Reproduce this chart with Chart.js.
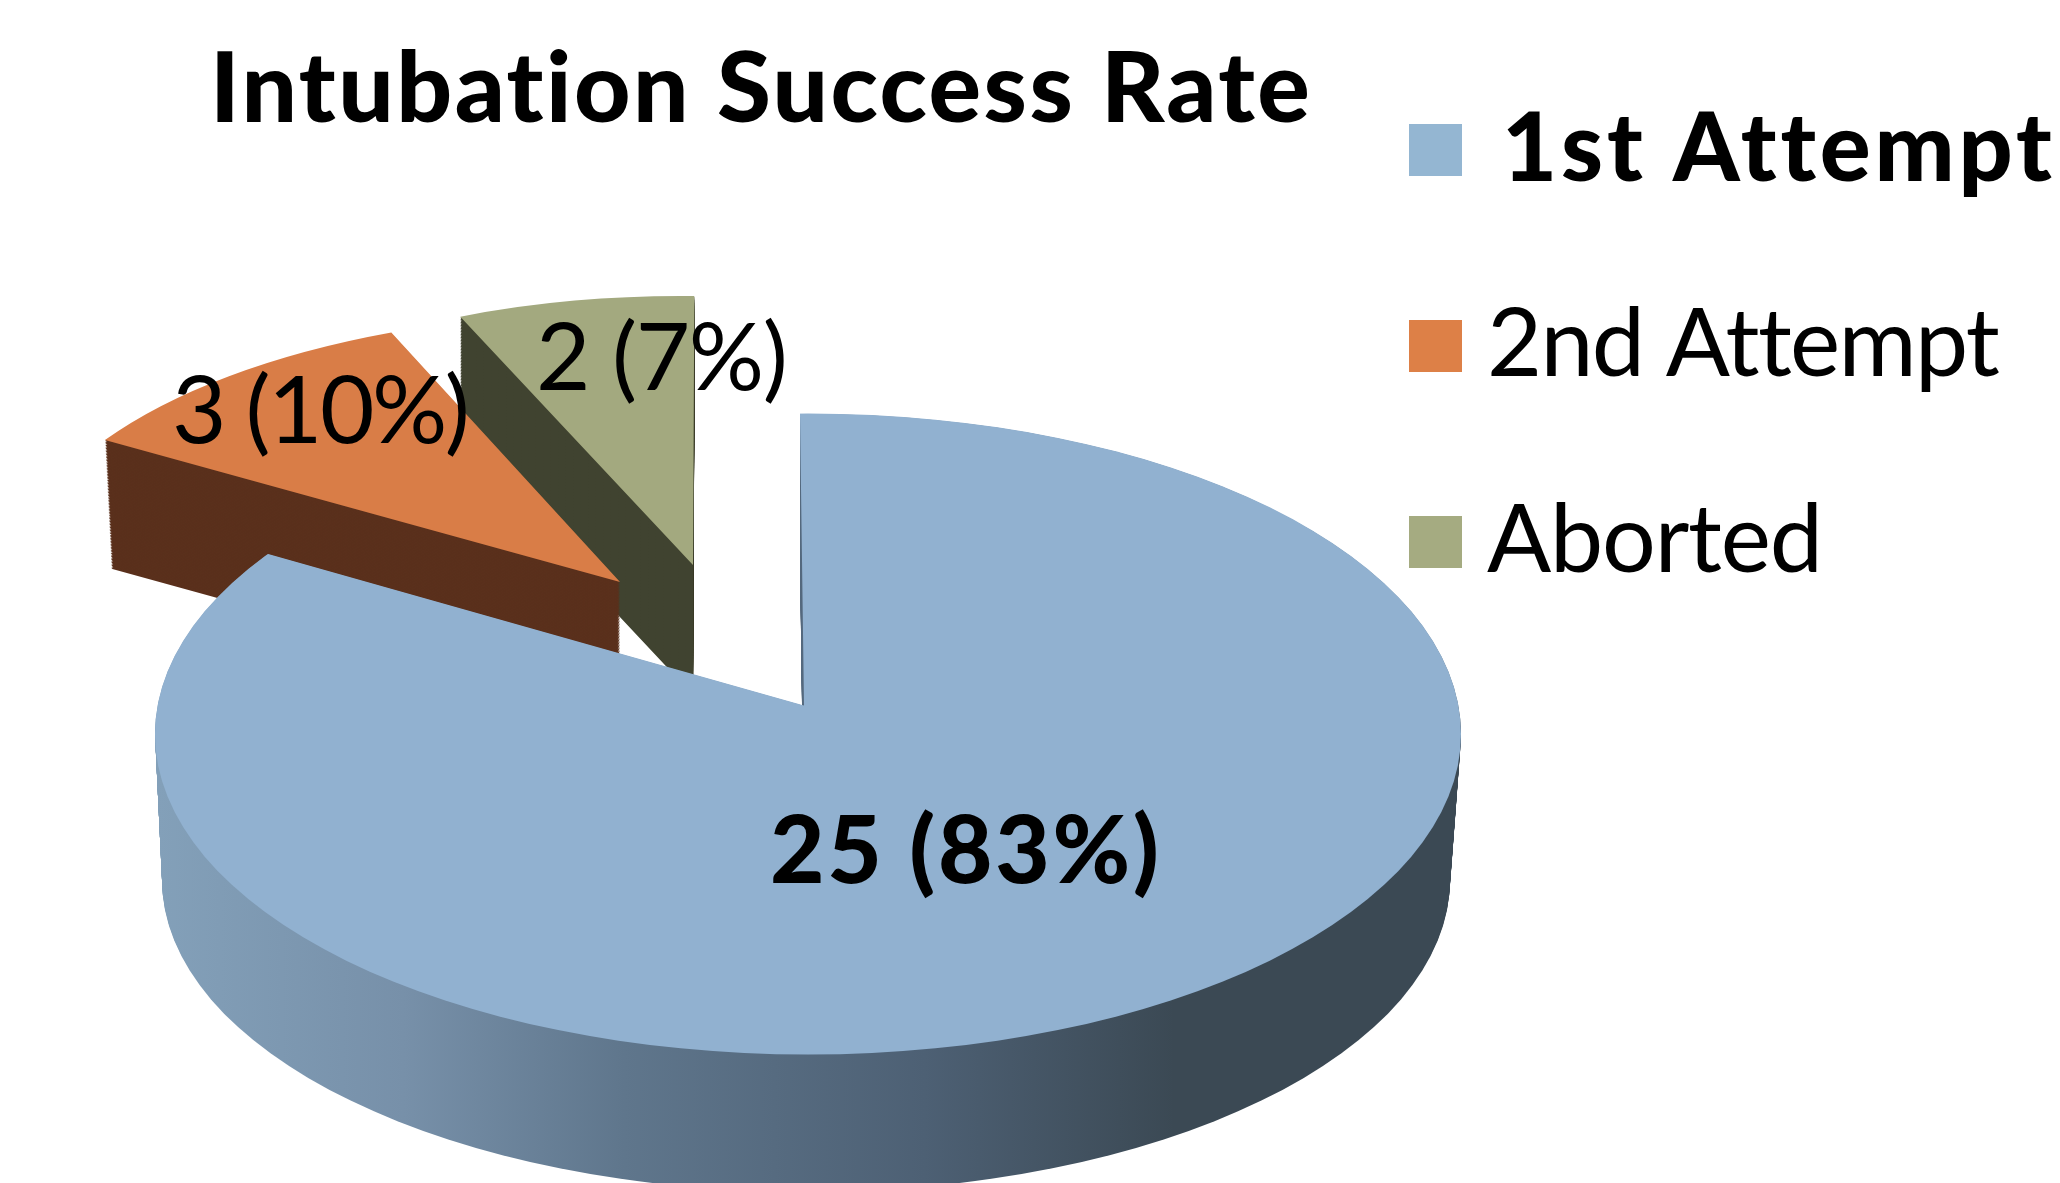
<!DOCTYPE html>
<html>
<head>
<meta charset="utf-8">
<title>Intubation Success Rate</title>
<script src="https://cdn.jsdelivr.net/npm/chart.js@4"></script>
<style>
  html, body { margin: 0; padding: 0; background: #fff; overflow: hidden; }
  canvas { display: block; }
</style>
</head>
<body>
<canvas id="pie_chart" width="2060" height="1183"></canvas>
<script>
// chart data
const chartTitle = 'Intubation Success Rate';
const categories = ['1st Attempt', '2nd Attempt', 'Aborted'];
const patients = [25, 3, 2];
const sliceLabels = ['25 (83%)', '3 (10%)', '2 (7%)'];

// colours
const swatchColors = ['#94B6D2', '#DD8047', '#A5AB81'];
const faceColors = ['#91B1D0', '#D97D47', '#A3A97F'];
const wallColors = [null, '#5A301C', '#404330'];
const blueWallStops = [[157, '#83A0B9'], [400, '#7790A9'], [620, '#5F768C'], [920, '#4D6074'], [1170, '#3B4954'], [1461, '#3B4954']];

// how each slice lies on the tilted page: apex position and the 2x2 map of the unit circle
const sliceMaps = [
  { x: 804, y: 705.5, a: 930, b: 12, c: 6, d: 436.5 },
  { x: 620, y: 582, a: 606, b: 8.3, c: -19.5, d: 269.5 },
  { x: 693, y: 565, a: 575, b: 6.4, c: -1.3, d: 269 }
];
// the big slice is cut to the real outline, which is off centre because of the perspective
const topRim = { x: 808, y: 734, rx: 653, ry: 320.5 };
const bottomRim = { x: 806, y: 880, rx: 644, ry: 312 };
// side wall of the small slices
const wallDepth = [0, 127, 130];
const wallShrink = [0, 0.0126, 0];

const labelSpots = [
  { x: 770, y: 883, width: 389, font: '900 94px Lato' },
  { x: 172, y: 443, width: 298, font: '94px Lato' },
  { x: 536, y: 390, width: 252, font: '94px Lato' }
];
const titleSpot = { x: 210, y: 122, width: 1100, font: '900 98px Lato' };
const legendRows = [
  { box: 124, x: 1502, y: 181, width: 550, font: '900 95px Lato' },
  { box: 320, x: 1487, y: 376, width: 513, font: '95px Lato' },
  { box: 516, x: 1487, y: 572, width: 336, font: '95px Lato' }
];

// draw a library arc with another fill, the resolved options stay untouched
function drawArcAs(ctx, arc, fill) {
  const copy = Object.create(arc);
  copy.options = Object.assign({}, arc.options, { backgroundColor: fill, borderWidth: 0 });
  copy.draw(ctx);
}

function placeArc(ctx, arc, map, dx, dy, scale) {
  const k = scale / arc.outerRadius;
  ctx.translate(map.x + dx, map.y + dy);
  ctx.transform(map.a * k, map.b * k, map.c * k, map.d * k, 0, 0);
  ctx.translate(-arc.x, -arc.y);
}

function drawSmallSlice(ctx, arc, i) {
  const map = sliceMaps[i];
  for (let d = wallDepth[i]; d > 0; d -= 1.5) {
    ctx.save();
    placeArc(ctx, arc, map, 0, d, 1 - wallShrink[i] * d / wallDepth[i]);
    drawArcAs(ctx, arc, wallColors[i]);
    ctx.restore();
  }
  ctx.save();
  placeArc(ctx, arc, map, 0, 0, 1);
  drawArcAs(ctx, arc, faceColors[i]);
  ctx.restore();
}

function drawBigSlice(ctx, arc) {
  const map = sliceMaps[0];
  // gradient runs in arc space, so page x is mapped back first
  const toLocal = (px) => arc.x + (px - map.x) * arc.outerRadius / map.a;
  const first = toLocal(blueWallStops[0][0]);
  const last = toLocal(blueWallStops[blueWallStops.length - 1][0]);
  const wall = ctx.createLinearGradient(first, 0, last, 0);
  blueWallStops.forEach(function (stop) {
    wall.addColorStop((toLocal(stop[0]) - first) / (last - first), stop[1]);
  });

  const total = bottomRim.y - topRim.y;
  for (let d = total; d >= 0; d -= 1.5) {
    const t = d / total;
    ctx.save();
    ctx.beginPath();
    ctx.ellipse(topRim.x + (bottomRim.x - topRim.x) * t, topRim.y + d,
      topRim.rx + (bottomRim.rx - topRim.rx) * t, topRim.ry + (bottomRim.ry - topRim.ry) * t,
      0, 0, Math.PI * 2);
    ctx.clip();
    placeArc(ctx, arc, map, 0, d, 1);
    drawArcAs(ctx, arc, wall);
    ctx.restore();
  }
  // top face
  ctx.save();
  ctx.beginPath();
  ctx.ellipse(topRim.x, topRim.y, topRim.rx, topRim.ry, 0, 0, Math.PI * 2);
  ctx.clip();
  placeArc(ctx, arc, map, 0, 0, 1);
  drawArcAs(ctx, arc, faceColors[0]);
  ctx.restore();
}

// letter spacing is worked out so the text fills the width it has in the picture
function drawText(ctx, text, spot) {
  ctx.font = spot.font;
  ctx.fillStyle = '#000';
  ctx.textAlign = 'left';
  ctx.textBaseline = 'alphabetic';
  ctx.fontVariantLigatures = 'none';
  ctx.letterSpacing = '0.01px';
  const natural = ctx.measureText(text).width;
  ctx.letterSpacing = ((spot.width - natural) / (text.length - 1)) + 'px';
  ctx.fillText(text, spot.x, spot.y);
  ctx.letterSpacing = '0px';
}

const tiltedPie = {
  id: 'tiltedPie',
  beforeDatasetsDraw(chart) {
    const ctx = chart.ctx;
    const arcs = chart.getDatasetMeta(0).data;
    // back to front
    drawSmallSlice(ctx, arcs[2], 2);
    drawSmallSlice(ctx, arcs[1], 1);
    drawBigSlice(ctx, arcs[0]);
    return false;
  },
  afterDraw(chart) {
    const ctx = chart.ctx;
    sliceLabels.forEach(function (label, i) { drawText(ctx, label, labelSpots[i]); });
    drawText(ctx, chartTitle, titleSpot);
    categories.forEach(function (name, i) {
      ctx.fillStyle = swatchColors[i];
      ctx.fillRect(1409, legendRows[i].box, 53, 52);
      drawText(ctx, name, legendRows[i]);
    });
  }
};

new Chart(document.getElementById('pie_chart'), {
  type: 'pie',
  data: {
    labels: categories,
    datasets: [{
      label: chartTitle,
      data: patients,
      backgroundColor: faceColors,
      borderWidth: 0
    }]
  },
  options: {
    responsive: false,
    animation: false,
    events: [],
    plugins: {
      legend: { display: false },
      title: { display: false },
      tooltip: { enabled: false }
    }
  },
  plugins: [tiltedPie]
});
</script>
</body>
</html>
